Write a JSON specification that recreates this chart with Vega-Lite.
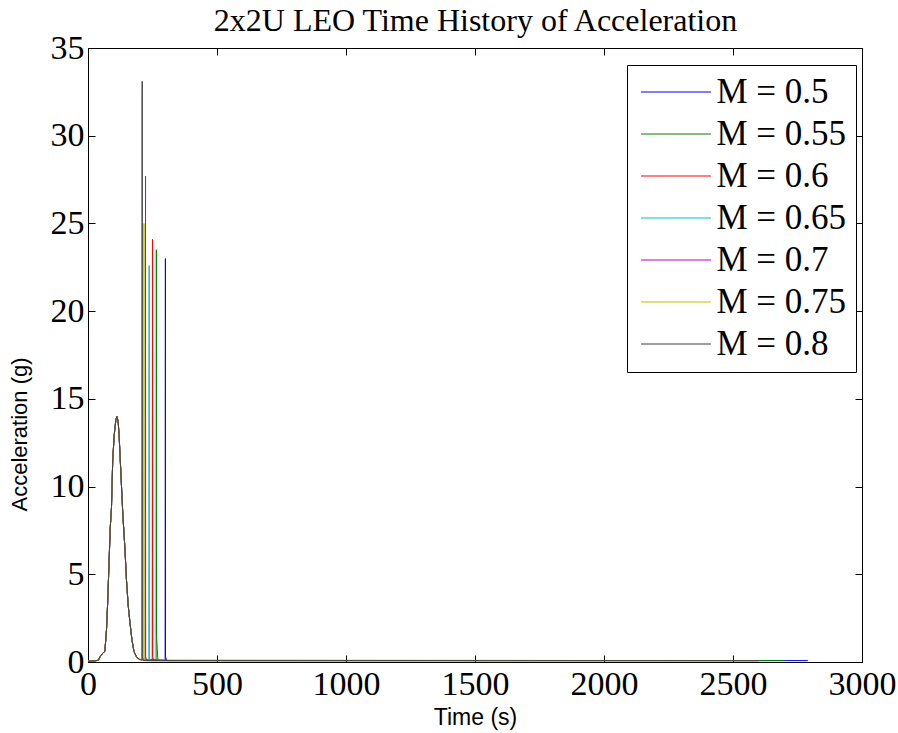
{
  "$schema": "https://vega.github.io/schema/vega-lite/v6.json",
  "width": 774,
  "height": 614,
  "autosize": {"type": "none"},
  "padding": {"left": 88, "top": 48, "right": 36, "bottom": 71},
  "background": "white",
  "config": {"view": {"stroke": "black", "strokeWidth": 1}},
  "datasets": {
    "acc": [
      {"M": "M = 0.5", "t": 0, "a": 0.05}, {"M": "M = 0.5", "t": 20, "a": 0.05}, {"M": "M = 0.5", "t": 40, "a": 0.1}, {"M": "M = 0.5", "t": 47, "a": 0.3}, {"M": "M = 0.5", "t": 57, "a": 0.5}, {"M": "M = 0.5", "t": 65, "a": 0.6}, {"M": "M = 0.5", "t": 68, "a": 1.1}, {"M": "M = 0.5", "t": 72, "a": 1.9}, {"M": "M = 0.5", "t": 76, "a": 3.3}, {"M": "M = 0.5", "t": 81, "a": 5.4}, {"M": "M = 0.5", "t": 86, "a": 7.6}, {"M": "M = 0.5", "t": 91, "a": 8.8}, {"M": "M = 0.5", "t": 96, "a": 11.6}, {"M": "M = 0.5", "t": 102, "a": 13.0}, {"M": "M = 0.5", "t": 108, "a": 13.8}, {"M": "M = 0.5", "t": 112, "a": 14.0}, {"M": "M = 0.5", "t": 117, "a": 13.7}, {"M": "M = 0.5", "t": 121, "a": 12.8}, {"M": "M = 0.5", "t": 127, "a": 10.9}, {"M": "M = 0.5", "t": 135, "a": 8.4}, {"M": "M = 0.5", "t": 143, "a": 6.5}, {"M": "M = 0.5", "t": 149, "a": 4.7}, {"M": "M = 0.5", "t": 156, "a": 3.2}, {"M": "M = 0.5", "t": 163, "a": 2.2}, {"M": "M = 0.5", "t": 170, "a": 1.3}, {"M": "M = 0.5", "t": 178, "a": 0.6}, {"M": "M = 0.5", "t": 188, "a": 0.3}, {"M": "M = 0.5", "t": 198, "a": 0.15},
      {"M": "M = 0.5", "t": 299, "a": 0.1}, {"M": "M = 0.5", "t": 300, "a": 23.0}, {"M": "M = 0.5", "t": 300.5, "a": 0.3}, {"M": "M = 0.5", "t": 305, "a": 0.08}, {"M": "M = 0.5", "t": 2790, "a": 0.08},

      {"M": "M = 0.55", "t": 0, "a": 0.05}, {"M": "M = 0.55", "t": 20, "a": 0.05}, {"M": "M = 0.55", "t": 40, "a": 0.1}, {"M": "M = 0.55", "t": 47, "a": 0.3}, {"M": "M = 0.55", "t": 57, "a": 0.5}, {"M": "M = 0.55", "t": 65, "a": 0.6}, {"M": "M = 0.55", "t": 68, "a": 1.1}, {"M": "M = 0.55", "t": 72, "a": 1.9}, {"M": "M = 0.55", "t": 76, "a": 3.3}, {"M": "M = 0.55", "t": 81, "a": 5.4}, {"M": "M = 0.55", "t": 86, "a": 7.6}, {"M": "M = 0.55", "t": 91, "a": 8.8}, {"M": "M = 0.55", "t": 96, "a": 11.6}, {"M": "M = 0.55", "t": 102, "a": 13.0}, {"M": "M = 0.55", "t": 108, "a": 13.8}, {"M": "M = 0.55", "t": 112, "a": 14.0}, {"M": "M = 0.55", "t": 117, "a": 13.7}, {"M": "M = 0.55", "t": 121, "a": 12.8}, {"M": "M = 0.55", "t": 127, "a": 10.9}, {"M": "M = 0.55", "t": 135, "a": 8.4}, {"M": "M = 0.55", "t": 143, "a": 6.5}, {"M": "M = 0.55", "t": 149, "a": 4.7}, {"M": "M = 0.55", "t": 156, "a": 3.2}, {"M": "M = 0.55", "t": 163, "a": 2.2}, {"M": "M = 0.55", "t": 170, "a": 1.3}, {"M": "M = 0.55", "t": 178, "a": 0.6}, {"M": "M = 0.55", "t": 188, "a": 0.3}, {"M": "M = 0.55", "t": 198, "a": 0.15},
      {"M": "M = 0.55", "t": 264, "a": 0.1}, {"M": "M = 0.55", "t": 265, "a": 23.5}, {"M": "M = 0.55", "t": 265.5, "a": 1.5}, {"M": "M = 0.55", "t": 271, "a": 0.1}, {"M": "M = 0.55", "t": 2700, "a": 0.08},

      {"M": "M = 0.6", "t": 0, "a": 0.05}, {"M": "M = 0.6", "t": 20, "a": 0.05}, {"M": "M = 0.6", "t": 40, "a": 0.1}, {"M": "M = 0.6", "t": 47, "a": 0.3}, {"M": "M = 0.6", "t": 57, "a": 0.5}, {"M": "M = 0.6", "t": 65, "a": 0.6}, {"M": "M = 0.6", "t": 68, "a": 1.1}, {"M": "M = 0.6", "t": 72, "a": 1.9}, {"M": "M = 0.6", "t": 76, "a": 3.3}, {"M": "M = 0.6", "t": 81, "a": 5.4}, {"M": "M = 0.6", "t": 86, "a": 7.6}, {"M": "M = 0.6", "t": 91, "a": 8.8}, {"M": "M = 0.6", "t": 96, "a": 11.6}, {"M": "M = 0.6", "t": 102, "a": 13.0}, {"M": "M = 0.6", "t": 108, "a": 13.8}, {"M": "M = 0.6", "t": 112, "a": 14.0}, {"M": "M = 0.6", "t": 117, "a": 13.7}, {"M": "M = 0.6", "t": 121, "a": 12.8}, {"M": "M = 0.6", "t": 127, "a": 10.9}, {"M": "M = 0.6", "t": 135, "a": 8.4}, {"M": "M = 0.6", "t": 143, "a": 6.5}, {"M": "M = 0.6", "t": 149, "a": 4.7}, {"M": "M = 0.6", "t": 156, "a": 3.2}, {"M": "M = 0.6", "t": 163, "a": 2.2}, {"M": "M = 0.6", "t": 170, "a": 1.3}, {"M": "M = 0.6", "t": 178, "a": 0.6}, {"M": "M = 0.6", "t": 188, "a": 0.3}, {"M": "M = 0.6", "t": 198, "a": 0.15},
      {"M": "M = 0.6", "t": 249, "a": 0.1}, {"M": "M = 0.6", "t": 250, "a": 24.1}, {"M": "M = 0.6", "t": 250.5, "a": 0.3}, {"M": "M = 0.6", "t": 255, "a": 0.08}, {"M": "M = 0.6", "t": 2600, "a": 0.08},

      {"M": "M = 0.65", "t": 0, "a": 0.05}, {"M": "M = 0.65", "t": 20, "a": 0.05}, {"M": "M = 0.65", "t": 40, "a": 0.1}, {"M": "M = 0.65", "t": 47, "a": 0.3}, {"M": "M = 0.65", "t": 57, "a": 0.5}, {"M": "M = 0.65", "t": 65, "a": 0.6}, {"M": "M = 0.65", "t": 68, "a": 1.1}, {"M": "M = 0.65", "t": 72, "a": 1.9}, {"M": "M = 0.65", "t": 76, "a": 3.3}, {"M": "M = 0.65", "t": 81, "a": 5.4}, {"M": "M = 0.65", "t": 86, "a": 7.6}, {"M": "M = 0.65", "t": 91, "a": 8.8}, {"M": "M = 0.65", "t": 96, "a": 11.6}, {"M": "M = 0.65", "t": 102, "a": 13.0}, {"M": "M = 0.65", "t": 108, "a": 13.8}, {"M": "M = 0.65", "t": 112, "a": 14.0}, {"M": "M = 0.65", "t": 117, "a": 13.7}, {"M": "M = 0.65", "t": 121, "a": 12.8}, {"M": "M = 0.65", "t": 127, "a": 10.9}, {"M": "M = 0.65", "t": 135, "a": 8.4}, {"M": "M = 0.65", "t": 143, "a": 6.5}, {"M": "M = 0.65", "t": 149, "a": 4.7}, {"M": "M = 0.65", "t": 156, "a": 3.2}, {"M": "M = 0.65", "t": 163, "a": 2.2}, {"M": "M = 0.65", "t": 170, "a": 1.3}, {"M": "M = 0.65", "t": 178, "a": 0.6}, {"M": "M = 0.65", "t": 188, "a": 0.3}, {"M": "M = 0.65", "t": 198, "a": 0.15},
      {"M": "M = 0.65", "t": 236, "a": 0.1}, {"M": "M = 0.65", "t": 237, "a": 22.6}, {"M": "M = 0.65", "t": 237.5, "a": 0.3}, {"M": "M = 0.65", "t": 242, "a": 0.08}, {"M": "M = 0.65", "t": 2600, "a": 0.08},

      {"M": "M = 0.7", "t": 0, "a": 0.05}, {"M": "M = 0.7", "t": 20, "a": 0.05}, {"M": "M = 0.7", "t": 40, "a": 0.1}, {"M": "M = 0.7", "t": 47, "a": 0.3}, {"M": "M = 0.7", "t": 57, "a": 0.5}, {"M": "M = 0.7", "t": 65, "a": 0.6}, {"M": "M = 0.7", "t": 68, "a": 1.1}, {"M": "M = 0.7", "t": 72, "a": 1.9}, {"M": "M = 0.7", "t": 76, "a": 3.3}, {"M": "M = 0.7", "t": 81, "a": 5.4}, {"M": "M = 0.7", "t": 86, "a": 7.6}, {"M": "M = 0.7", "t": 91, "a": 8.8}, {"M": "M = 0.7", "t": 96, "a": 11.6}, {"M": "M = 0.7", "t": 102, "a": 13.0}, {"M": "M = 0.7", "t": 108, "a": 13.8}, {"M": "M = 0.7", "t": 112, "a": 14.0}, {"M": "M = 0.7", "t": 117, "a": 13.7}, {"M": "M = 0.7", "t": 121, "a": 12.8}, {"M": "M = 0.7", "t": 127, "a": 10.9}, {"M": "M = 0.7", "t": 135, "a": 8.4}, {"M": "M = 0.7", "t": 143, "a": 6.5}, {"M": "M = 0.7", "t": 149, "a": 4.7}, {"M": "M = 0.7", "t": 156, "a": 3.2}, {"M": "M = 0.7", "t": 163, "a": 2.2}, {"M": "M = 0.7", "t": 170, "a": 1.3}, {"M": "M = 0.7", "t": 178, "a": 0.6}, {"M": "M = 0.7", "t": 188, "a": 0.3}, {"M": "M = 0.7", "t": 198, "a": 0.15},
      {"M": "M = 0.7", "t": 222, "a": 0.1}, {"M": "M = 0.7", "t": 223, "a": 27.7}, {"M": "M = 0.7", "t": 223.5, "a": 0.3}, {"M": "M = 0.7", "t": 228, "a": 0.08}, {"M": "M = 0.7", "t": 2600, "a": 0.08},

      {"M": "M = 0.75", "t": 0, "a": 0.05}, {"M": "M = 0.75", "t": 20, "a": 0.05}, {"M": "M = 0.75", "t": 40, "a": 0.1}, {"M": "M = 0.75", "t": 47, "a": 0.3}, {"M": "M = 0.75", "t": 57, "a": 0.5}, {"M": "M = 0.75", "t": 65, "a": 0.6}, {"M": "M = 0.75", "t": 68, "a": 1.1}, {"M": "M = 0.75", "t": 72, "a": 1.9}, {"M": "M = 0.75", "t": 76, "a": 3.3}, {"M": "M = 0.75", "t": 81, "a": 5.4}, {"M": "M = 0.75", "t": 86, "a": 7.6}, {"M": "M = 0.75", "t": 91, "a": 8.8}, {"M": "M = 0.75", "t": 96, "a": 11.6}, {"M": "M = 0.75", "t": 102, "a": 13.0}, {"M": "M = 0.75", "t": 108, "a": 13.8}, {"M": "M = 0.75", "t": 112, "a": 14.0}, {"M": "M = 0.75", "t": 117, "a": 13.7}, {"M": "M = 0.75", "t": 121, "a": 12.8}, {"M": "M = 0.75", "t": 127, "a": 10.9}, {"M": "M = 0.75", "t": 135, "a": 8.4}, {"M": "M = 0.75", "t": 143, "a": 6.5}, {"M": "M = 0.75", "t": 149, "a": 4.7}, {"M": "M = 0.75", "t": 156, "a": 3.2}, {"M": "M = 0.75", "t": 163, "a": 2.2}, {"M": "M = 0.75", "t": 170, "a": 1.3}, {"M": "M = 0.75", "t": 178, "a": 0.6}, {"M": "M = 0.75", "t": 188, "a": 0.3}, {"M": "M = 0.75", "t": 198, "a": 0.15},
      {"M": "M = 0.75", "t": 216, "a": 0.1}, {"M": "M = 0.75", "t": 217, "a": 25.0}, {"M": "M = 0.75", "t": 217.5, "a": 0.3}, {"M": "M = 0.75", "t": 222, "a": 0.08}, {"M": "M = 0.75", "t": 2600, "a": 0.08},

      {"M": "M = 0.8", "t": 0, "a": 0.05}, {"M": "M = 0.8", "t": 20, "a": 0.05}, {"M": "M = 0.8", "t": 40, "a": 0.1}, {"M": "M = 0.8", "t": 47, "a": 0.3}, {"M": "M = 0.8", "t": 57, "a": 0.5}, {"M": "M = 0.8", "t": 65, "a": 0.6}, {"M": "M = 0.8", "t": 68, "a": 1.1}, {"M": "M = 0.8", "t": 72, "a": 1.9}, {"M": "M = 0.8", "t": 76, "a": 3.3}, {"M": "M = 0.8", "t": 81, "a": 5.4}, {"M": "M = 0.8", "t": 86, "a": 7.6}, {"M": "M = 0.8", "t": 91, "a": 8.8}, {"M": "M = 0.8", "t": 96, "a": 11.6}, {"M": "M = 0.8", "t": 102, "a": 13.0}, {"M": "M = 0.8", "t": 108, "a": 13.8}, {"M": "M = 0.8", "t": 112, "a": 14.0}, {"M": "M = 0.8", "t": 117, "a": 13.7}, {"M": "M = 0.8", "t": 121, "a": 12.8}, {"M": "M = 0.8", "t": 127, "a": 10.9}, {"M": "M = 0.8", "t": 135, "a": 8.4}, {"M": "M = 0.8", "t": 143, "a": 6.5}, {"M": "M = 0.8", "t": 149, "a": 4.7}, {"M": "M = 0.8", "t": 156, "a": 3.2}, {"M": "M = 0.8", "t": 163, "a": 2.2}, {"M": "M = 0.8", "t": 170, "a": 1.3}, {"M": "M = 0.8", "t": 178, "a": 0.6}, {"M": "M = 0.8", "t": 188, "a": 0.3}, {"M": "M = 0.8", "t": 198, "a": 0.15},
      {"M": "M = 0.8", "t": 209, "a": 0.1}, {"M": "M = 0.8", "t": 210, "a": 33.1}, {"M": "M = 0.8", "t": 210.5, "a": 0.3}, {"M": "M = 0.8", "t": 215, "a": 0.08}, {"M": "M = 0.8", "t": 2600, "a": 0.08}
    ]
  },
  "data": {"name": "acc"},
  "layer": [
    {
      "mark": {"type": "line", "strokeWidth": 1, "clip": true},
      "encoding": {
        "x": {
          "field": "t", "type": "quantitative",
          "scale": {"domain": [0, 3000], "nice": false, "zero": false},
          "axis": {"orient": "bottom", "values": [0, 500, 1000, 1500, 2000, 2500, 3000], "format": "d", "tickSize": -7, "tickColor": "black", "domainColor": "black", "grid": false, "labelFont": "Liberation Serif", "labelFontSize": 34, "labelColor": "black", "labelPadding": 12, "labelFlush": false, "labelOverlap": false, "title": "Time (s)", "titleFont": "Liberation Sans", "titleFontSize": 23, "titleFontWeight": "normal", "titleColor": "black", "titlePadding": 5}
        },
        "y": {
          "field": "a", "type": "quantitative",
          "scale": {"domain": [0, 35], "nice": false, "zero": false},
          "axis": {"orient": "left", "values": [0, 5, 10, 15, 20, 25, 30, 35], "format": "d", "tickSize": -7, "tickColor": "black", "domainColor": "black", "grid": false, "labelFont": "Liberation Serif", "labelFontSize": 34, "labelColor": "black", "labelPadding": 11, "labelFlush": false, "labelOverlap": false, "title": "Acceleration (g)", "titleFont": "Liberation Sans", "titleFontSize": 22, "titleFontWeight": "normal", "titleColor": "black", "titleX": -57, "titleY": 386}
        },
        "color": {
          "field": "M", "type": "nominal",
          "scale": {"domain": ["M = 0.5", "M = 0.55", "M = 0.6", "M = 0.65", "M = 0.7", "M = 0.75", "M = 0.8"], "range": ["#0000ff", "#008000", "#ff0000", "#00bfbf", "#bf00bf", "#bfbf00", "#404040"]},
          "legend": {"title": null, "orient": "none", "legendX": 539, "legendY": 17, "padding": 9.5, "symbolOffset": 22, "strokeColor": "black", "fillColor": "white", "symbolType": "M-3.5,0L3.5,0", "symbolSize": 400, "symbolStrokeWidth": 1, "symbolFillColor": "transparent", "labelFont": "Liberation Serif", "labelFontSize": 35, "labelColor": "black", "labelOffset": 23, "rowPadding": 6}
        }
      }
    },
    {
      "mark": {"type": "point", "opacity": 0},
      "encoding": {
        "x": {"field": "t", "type": "quantitative", "axis": {"orient": "top", "values": [0, 500, 1000, 1500, 2000, 2500, 3000], "tickSize": -7, "tickColor": "black", "domainColor": "black", "grid": false, "labels": false, "title": "2x2U LEO Time History of Acceleration", "titleFont": "Liberation Serif", "titleFontSize": 32, "titleFontWeight": "normal", "titleColor": "black", "titleBaseline": "alphabetic", "titleX": 387, "titleY": -18, "titleAlign": "center", "titleAngle": 0}},
        "y": {"field": "a", "type": "quantitative", "axis": {"orient": "right", "values": [0, 5, 10, 15, 20, 25, 30, 35], "tickSize": -7, "tickColor": "black", "domainColor": "black", "grid": false, "labels": false, "title": null}}
      }
    }
  ],
  "resolve": {"axis": {"x": "independent", "y": "independent"}}
}
